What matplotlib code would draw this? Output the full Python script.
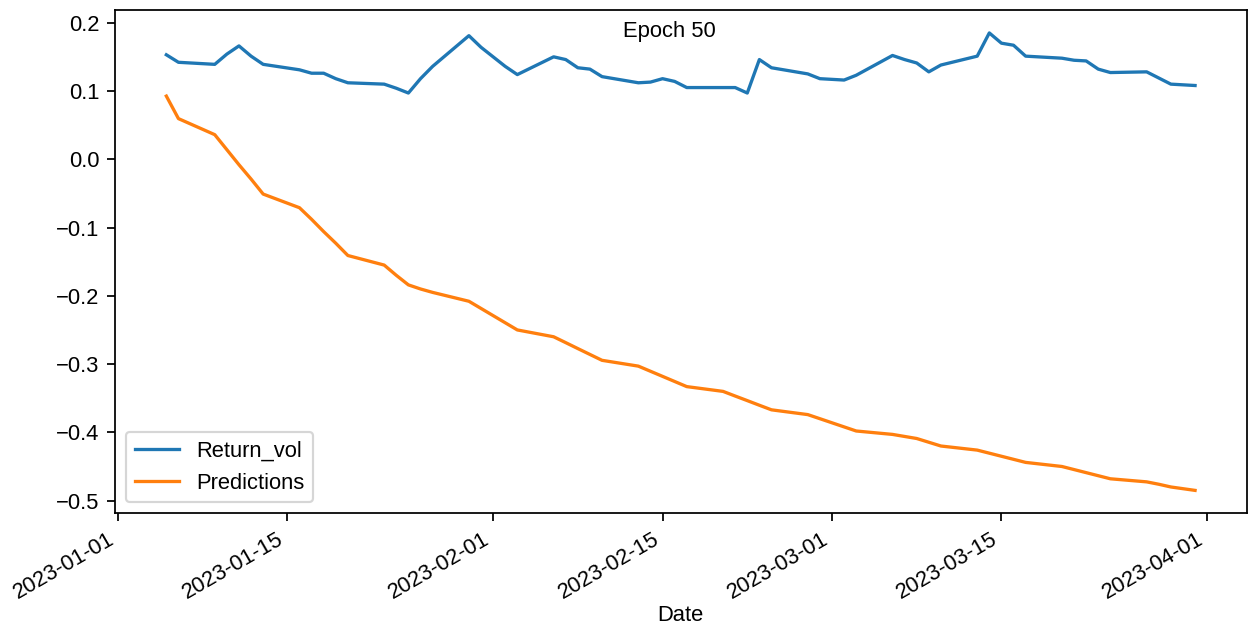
import numpy as np
import pandas as pd
import matplotlib
matplotlib.use('Agg')
import matplotlib.pyplot as plt
import matplotlib.dates as mdates

plt.rcParams['font.family'] = ['Liberation Sans', 'DejaVu Sans']

dates = pd.bdate_range('2023-01-05', '2023-03-31')

return_vol = [
    0.153, 0.142,                              # Jan 5-6
    0.139, 0.154, 0.166, 0.151, 0.139,         # Jan 9-13
    0.131, 0.126, 0.126, 0.118, 0.112,         # Jan 16-20
    0.110, 0.104, 0.097, 0.118, 0.136,         # Jan 23-27
    0.181, 0.164, 0.150, 0.136, 0.124,         # Jan 30 - Feb 3
    0.150, 0.146, 0.134, 0.132, 0.121,         # Feb 6-10
    0.112, 0.113, 0.118, 0.114, 0.105,         # Feb 13-17
    0.105, 0.105, 0.097, 0.146, 0.134,         # Feb 20-24
    0.125, 0.118, 0.117, 0.116, 0.123,         # Feb 27 - Mar 3
    0.152, 0.146, 0.141, 0.128, 0.138,         # Mar 6-10
    0.151, 0.185, 0.170, 0.167, 0.151,         # Mar 13-17
    0.148, 0.145, 0.144, 0.132, 0.127,         # Mar 20-24
    0.128, 0.119, 0.110, 0.109, 0.108,         # Mar 27-31
]

predictions = [
    0.0925, 0.0595,
    0.036, 0.014, -0.008, -0.029, -0.051,
    -0.071, -0.088, -0.106, -0.123, -0.141,
    -0.155, -0.170, -0.184, -0.190, -0.195,
    -0.208, -0.2185, -0.229, -0.2395, -0.250,
    -0.260, -0.2686, -0.2773, -0.2859, -0.2945,
    -0.303, -0.3105, -0.318, -0.3255, -0.333,
    -0.340, -0.3468, -0.3535, -0.3603, -0.367,
    -0.374, -0.380, -0.386, -0.392, -0.398,
    -0.403, -0.406, -0.409, -0.4145, -0.420,
    -0.426, -0.4305, -0.435, -0.4395, -0.444,
    -0.450, -0.4545, -0.459, -0.4635, -0.468,
    -0.4725, -0.476, -0.480, -0.4825, -0.485,
]

fig = plt.figure(figsize=(1249 / 158, 629 / 158), dpi=158)
ax = fig.add_subplot(111)
fig.subplots_adjust(left=0.092, right=0.998, top=0.984, bottom=0.184)

ax.plot(dates, return_vol, label='Return_vol')
ax.plot(dates, predictions, label='Predictions')
ax.legend(loc='lower left')
ax.set_xlabel('Date', labelpad=1)
ax.xaxis.set_major_locator(mdates.AutoDateLocator())
ax.xaxis.set_major_formatter(mdates.DateFormatter('%Y-%m-%d'))
for lbl in ax.get_xticklabels():
    lbl.set_rotation(30)
    lbl.set_ha('right')

fig.text(669.5 / 1249, 1 - 31 / 629, 'Epoch 50', ha='center', va='center', fontsize=10)

fig.savefig('out.png', dpi=158)
